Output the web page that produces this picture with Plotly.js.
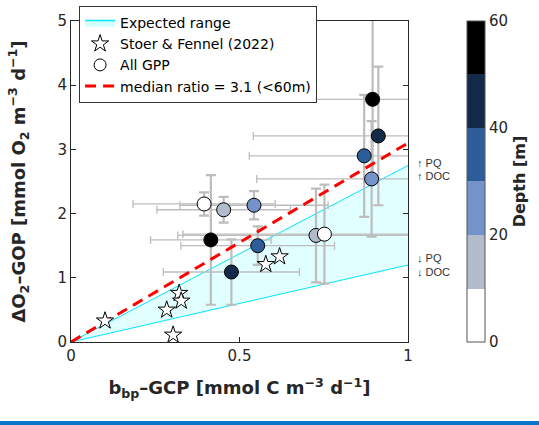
<!DOCTYPE html>
<html>
<head>
<meta charset="utf-8">
<script src="https://cdn.plot.ly/plotly-3.0.1.min.js"></script>
<style>
  html, body { margin: 0; padding: 0; background: #ffffff; }
  #chart { width: 539px; height: 425px; }
  #bar { position: absolute; left: 0; top: 421px; width: 539px; height: 4px; background: #0b76c9; }
</style>
</head>
<body>
<div id="chart"></div>
<div id="bar"></div>
<script>
// ---- data ----
// All GPP circles (bbp-GCP, dO2-GOP), their error bars and depth (m)
const gppX     = [0.895, 0.912, 0.870, 0.892, 0.395, 0.453, 0.543, 0.415, 0.554, 0.476, 0.727, 0.752];
const gppY     = [3.78,  3.21,  2.90,  2.54,  2.15,  2.06,  2.13,  1.59,  1.50,  1.09,  1.66,  1.68];
const gppXErr  = [0.342, 0.371, 0.341, 0.341, 0.211, 0.198, 0.220, 0.179, 0.228, 0.202, 0.410, 0.420];
const gppYErr  = [1.30,  1.08,  0.95,  0.90,  0.18,  0.20,  0.22,  1.01,  0.30,  0.51,  0.73,  0.77];
const gppDepth = [55,    45,    35,    25,    5,     15,    25,    55,    35,    45,    15,    5];

// Stoer & Fennel (2022) stars
const sfX = [0.101, 0.321, 0.327, 0.284, 0.303, 0.578, 0.619];
const sfY = [0.33,  0.76,  0.64,  0.50,  0.11,  1.21,  1.33];

// Expected range (two bounding lines) and median ratio line
const rangeX     = [0, 1];
const rangeUpper = [0, 2.75];
const rangeLower = [0, 1.20];
const medianX    = [0, 1];
const medianY    = [0, 3.1];

// Colour bar
const depthTicks = [0, 20, 40, 60];
const depthTickText = ['0', '20', '40', '60'];

// ---- styling ----
const FONT = 'DejaVu Sans, Liberation Sans, sans-serif';
const AX = '#262626';
const ERR = '#bdbdbd';
const depthScale = [
  [0, '#ffffff'], [1/6, '#ffffff'],
  [1/6, '#b2bbcb'], [2/6, '#b2bbcb'],
  [2/6, '#7393c9'], [3/6, '#7393c9'],
  [3/6, '#2e5d9b'], [4/6, '#2e5d9b'],
  [4/6, '#132a48'], [5/6, '#132a48'],
  [5/6, '#000000'], [1, '#000000']
];

const traces = [
  { // upper bound of expected range
    x: rangeX, y: rangeUpper, mode: 'lines', type: 'scatter',
    line: { color: '#00e5ff', width: 1 }, showlegend: false, hoverinfo: 'skip'
  },
  { // lower bound, filled to upper
    x: rangeX, y: rangeLower, mode: 'lines', type: 'scatter',
    fill: 'tonexty', fillcolor: 'rgba(205,255,255,0.6)',
    line: { color: '#00e5ff', width: 1 },
    showlegend: false, hoverinfo: 'skip'
  },
  { // legend entry for expected range
    x: [null], y: [null], mode: 'lines', type: 'scatter',
    fill: 'toself', fillcolor: 'rgba(205,255,255,0.9)',
    line: { color: '#00e5ff', width: 1.5 },
    name: 'Expected range', legendrank: 1
  },
  { // error bars only
    x: gppX, y: gppY, mode: 'markers', type: 'scatter',
    marker: { size: 1, opacity: 0 },
    error_x: { type: 'data', array: gppXErr, visible: true, color: ERR, thickness: 1.3, width: 4 },
    error_y: { type: 'data', array: gppYErr, visible: true, color: ERR, thickness: 2.2, width: 5 },
    showlegend: false, hoverinfo: 'skip'
  },
  { // median ratio
    x: medianX, y: medianY, mode: 'lines', type: 'scatter',
    line: { color: '#ff0000', width: 3, dash: '11px,7px' },
    name: 'median ratio = 3.1 (<60m)', legendrank: 4, hoverinfo: 'skip'
  },
  { // stars
    x: sfX, y: sfY, mode: 'markers', type: 'scatter',
    marker: { symbol: 'star', size: 13, color: '#ffffff', line: { color: '#000000', width: 1 } },
    name: 'Stoer & Fennel (2022)', legendrank: 2
  },
  { // legend entry for All GPP
    x: [null], y: [null], mode: 'markers', type: 'scatter',
    marker: { symbol: 'circle', size: 12, color: '#ffffff', line: { color: '#000000', width: 1 } },
    name: 'All GPP', legendrank: 3
  },
  { // coloured circles
    x: gppX, y: gppY, mode: 'markers', type: 'scatter',
    marker: {
      symbol: 'circle', size: 14, color: gppDepth, cmin: 0, cmax: 60,
      colorscale: depthScale, line: { color: '#000000', width: 1 },
      colorbar: {
        x: 1.176, xanchor: 'left', xpad: 0,
        y: 0.5, yanchor: 'middle', len: 321, lenmode: 'pixels', ypad: 0,
        thickness: 18, thicknessmode: 'pixels',
        outlinecolor: '#555555', outlinewidth: 1,
        tickvals: depthTicks, ticktext: depthTickText, ticks: '',
        ticklabelpad: 4,
        tickfont: { family: FONT, size: 15, color: AX },
        title: { text: 'Depth [m]', side: 'right', font: { family: FONT, size: 16, color: AX, weight: 'bold' } }
      }
    },
    showlegend: false
  }
];

const layout = {
  width: 539, height: 425,
  margin: { l: 71, r: 131, t: 21, b: 83, autoexpand: false },
  paper_bgcolor: '#ffffff', plot_bgcolor: '#ffffff',
  font: { family: FONT, color: AX },
  xaxis: {
    range: [0, 1], tickvals: [0, 0.5, 1], ticktext: ['0', '0.5', '1'],
    ticks: 'inside', ticklen: 5, tickcolor: AX, mirror: 'ticks',
    showline: true, linecolor: AX, linewidth: 1, showgrid: false, zeroline: false,
    tickfont: { family: FONT, size: 15, color: AX },
    title: { text: 'b<sub>bp</sub>–GCP [mmol C m<sup>−3</sup> d<sup>−1</sup>]', standoff: 17,
             font: { family: FONT, size: 18, color: AX, weight: 'bold' } }
  },
  yaxis: {
    range: [0, 5], tickvals: [0, 1, 2, 3, 4, 5],
    ticks: 'inside', ticklen: 5, tickcolor: AX, mirror: 'ticks',
    showline: true, linecolor: AX, linewidth: 1, showgrid: false, zeroline: false,
    tickfont: { family: FONT, size: 15, color: AX },
    title: { text: 'ΔO<sub>2</sub>–GOP [mmol O<sub>2</sub> m<sup>−3</sup> d<sup>−1</sup>]',
             font: { family: FONT, size: 18, color: AX, weight: 'bold' } }
  },
  legend: {
    x: 0.024, y: 1.047, xanchor: 'left', yanchor: 'top',
    traceorder: 'normal', itemwidth: 30,
    bgcolor: '#ffffff', bordercolor: '#333333', borderwidth: 1,
    font: { family: FONT, size: 14, color: '#000000' },
    tracegroupgap: 0
  },
  annotations: [
    { text: '↑ PQ',  x: 1.02, xref: 'paper', xanchor: 'left', y: 2.79, yref: 'y', showarrow: false,
      font: { family: 'Liberation Sans, Arial, sans-serif', size: 11, color: '#333333' } },
    { text: '↑ DOC', x: 1.02, xref: 'paper', xanchor: 'left', y: 2.59, yref: 'y', showarrow: false,
      font: { family: 'Liberation Sans, Arial, sans-serif', size: 11, color: '#333333' } },
    { text: '↓ PQ',  x: 1.02, xref: 'paper', xanchor: 'left', y: 1.31, yref: 'y', showarrow: false,
      font: { family: 'Liberation Sans, Arial, sans-serif', size: 11, color: '#333333' } },
    { text: '↓ DOC', x: 1.02, xref: 'paper', xanchor: 'left', y: 1.09, yref: 'y', showarrow: false,
      font: { family: 'Liberation Sans, Arial, sans-serif', size: 11, color: '#333333' } }
  ]
};

Plotly.newPlot('chart', traces, layout, { staticPlot: true, displayModeBar: false });
</script>
</body>
</html>
